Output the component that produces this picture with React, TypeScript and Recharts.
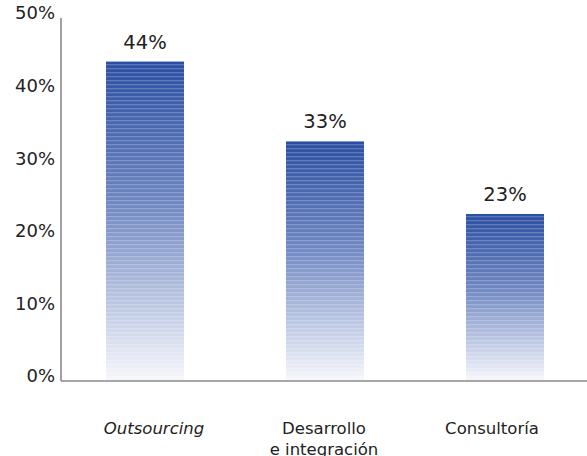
import { BarChart, Bar, XAxis, YAxis, LabelList } from 'recharts';

const categories = ['Outsourcing', 'Desarrollo\ne integración', 'Consultoría'];
const shares = [44, 33, 23];
const yTicks = [0, 10, 20, 30, 40, 50];

const data = categories.map((name, i) => ({ name, value: shares[i] }));

const FONT = '"DejaVu Sans", sans-serif';
// category labels sit on a slightly narrower grid than the bars
const LABEL_SHIFT = [9, -1, -13];

function YTick({ x, y, payload }: any) {
  return (
    <text x={x + 2} y={y - 5} dy="0.35em" textAnchor="end" fontFamily={FONT} fontSize={18} fill="#222">
      {payload.value}%
    </text>
  );
}

function XTick({ x, y, payload, index }: any) {
  const lines = String(payload.value).split('\n');
  const cx = x + (LABEL_SHIFT[index] ?? 0);
  return (
    <text x={cx} y={y + 45} textAnchor="middle" fontFamily={FONT} fontSize={16.5} fill="#222"
      fontStyle={index === 0 ? 'italic' : 'normal'}>
      {lines.map((l, i) => (
        <tspan key={i} x={cx} dy={i === 0 ? 0 : 21}>{l}</tspan>
      ))}
    </text>
  );
}

function StripedBar({ x, y, width, height }: any) {
  return (
    <g>
      <rect x={x} y={y} width={width} height={height} fill="url(#barGrad)" />
      <rect x={x} y={y} width={width} height={height} fill="url(#stripes)" />
    </g>
  );
}

export default function App() {
  return (
    <div style={{ position: 'absolute', left: 0, top: 0, background: '#fff' }}>
      <BarChart width={587} height={456} data={data} margin={{ top: 18, right: 0, bottom: 0, left: 0 }}>
        <defs>
          <linearGradient id="barGrad" x1="0" y1="0" x2="0" y2="1">
            <stop offset="0%" stopColor="#2a4ea2" />
            <stop offset="45%" stopColor="#7088c2" />
            <stop offset="100%" stopColor="#f7f8fc" />
          </linearGradient>
          <pattern id="stripes" width="4" height="4" patternUnits="userSpaceOnUse">
            <rect x="0" y="0" width="4" height="1.3" fill="#fff" fillOpacity={0.22} />
          </pattern>
        </defs>
        <XAxis
          dataKey="name"
          interval={0}
          tickLine={false}
          axisLine={{ stroke: '#8a8a8a', strokeWidth: 1.6 }}
          height={75}
          padding={{ left: -6, right: -8 }}
          tick={<XTick />}
        />
        <YAxis
          domain={[0, 50]}
          ticks={yTicks}
          width={61}
          tickLine={false}
          axisLine={{ stroke: '#8a8a8a', strokeWidth: 1.6 }}
          tick={<YTick />}
        />
        <Bar dataKey="value" barSize={78} shape={<StripedBar />} isAnimationActive={false}>
          <LabelList
            dataKey="value"
            position="top"
            offset={13}
            formatter={(v: any) => `${v}%`}
            style={{ fontFamily: FONT, fontSize: 19.5, fill: '#222' }}
          />
        </Bar>
      </BarChart>
    </div>
  );
}
